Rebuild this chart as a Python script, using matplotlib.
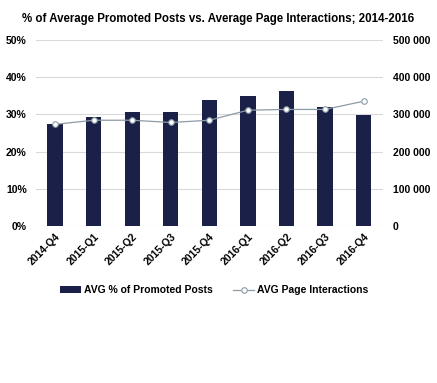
import matplotlib
matplotlib.use("Agg")
import matplotlib.pyplot as plt
from matplotlib.ticker import FuncFormatter

plt.rcParams['font.family'] = ['Liberation Sans', 'DejaVu Sans']
plt.rcParams['font.weight'] = 'bold'

# data
quarters = ['2014-Q4', '2015-Q1', '2015-Q2', '2015-Q3', '2015-Q4',
            '2016-Q1', '2016-Q2', '2016-Q3', '2016-Q4']
promoted_pct = [27.4, 29.2, 30.5, 30.5, 33.8, 34.8, 36.2, 32.0, 29.7]
interactions = [273000, 284000, 284000, 278000, 284000,
                311000, 313000, 313000, 335000]

navy = '#1a2047'
line_col = '#8c9ba5'
grid_col = '#d9d9d9'

fig = plt.figure(figsize=(4.37, 3.83), dpi=100)
ax = fig.add_axes([0.082, 0.410, 0.794, 0.486])
ax2 = ax.twinx()

x = range(len(quarters))
bars = ax.bar(x, promoted_pct, width=0.4, color=navy, zorder=2,
              label='AVG % of Promoted Posts')
ln, = ax2.plot(x, interactions, color=line_col, lw=0.9, marker='o',
               markersize=4, markerfacecolor='white', markeredgecolor=line_col,
               markeredgewidth=0.8, zorder=3, label='AVG Page Interactions')

ax.set_ylim(0, 50)
ax.set_yticks(range(0, 51, 10))
ax.yaxis.set_major_formatter(FuncFormatter(lambda v, p: '%d%%' % v))
ax2.set_ylim(0, 500000)
ax2.set_yticks(range(0, 500001, 100000))
ax2.yaxis.set_major_formatter(
    FuncFormatter(lambda v, p: '{:,}'.format(int(v)).replace(',', ' ')))

ax.set_xlim(-0.5, len(quarters) - 0.5)
ax.set_xticks(list(x))
ax.set_xticklabels(quarters, rotation=45, ha='right', rotation_mode='anchor',
                   fontsize=7.5)
ax.grid(axis='y', color=grid_col, lw=0.8, zorder=0)
ax.set_axisbelow(True)

for a in (ax, ax2):
    for s in a.spines.values():
        s.set_visible(False)
    a.tick_params(length=0, labelsize=7.5)
ax.tick_params(axis='y', pad=6.5)
ax2.tick_params(axis='y', pad=7)
ax.tick_params(axis='x', pad=4)

# move line axis above bars
ax.set_zorder(1)
ax.patch.set_visible(False)
ax2.set_zorder(2)

fig.suptitle('% of Average Promoted Posts vs. Average Page Interactions; 2014-2016',
             fontsize=8.3, fontweight='bold', x=0.5, y=0.965)

fig.legend([bars, ln], ['AVG % of Promoted Posts', 'AVG Page Interactions'],
           loc='center', bbox_to_anchor=(0.49, 0.242), ncol=2, frameon=False,
           fontsize=7.5, handlelength=2.0, columnspacing=2.0, handletextpad=0.3)

fig.savefig('out.png', dpi=100)
